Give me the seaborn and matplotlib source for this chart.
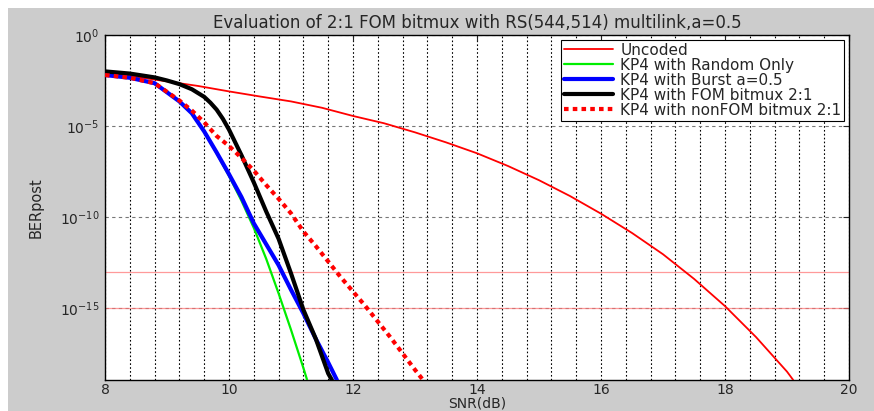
import numpy as np
import pandas as pd
import seaborn as sns
import matplotlib.pyplot as plt
from matplotlib.patches import Rectangle
from matplotlib.ticker import FixedLocator, MultipleLocator, NullLocator, LogFormatterMathtext

# SNR (dB) and log10(BER)
snr_uncoded = [8, 8.5, 9, 9.5, 10, 10.5, 11, 11.5, 12, 12.5, 13, 13.5, 14, 14.5,
               15, 15.5, 16, 16.5, 17, 17.5, 18, 18.5, 19, 19.1]
log_uncoded = [-2.1, -2.3, -2.55, -2.8, -3.1, -3.38, -3.65, -4.0, -4.45, -4.85, -5.35,
               -5.9, -6.5, -7.2, -7.98, -8.85, -9.82, -10.88, -12.05, -13.4, -14.9,
               -16.6, -18.5, -18.96]

snr_random = [8.0, 8.4, 8.8, 9.2, 9.4, 9.6, 9.8, 10.0, 10.2, 10.4, 10.6, 10.8, 11.0, 11.2, 11.26]
log_random = [-2.2, -2.35, -2.65, -3.65, -4.3, -5.3, -6.5, -7.75, -9.1, -10.6, -12.3,
              -14.2, -16.2, -18.3, -18.96]

snr_burst = [8.0, 8.4, 8.8, 9.2, 9.4, 9.6, 9.8, 10.0, 10.2, 10.4, 10.6, 10.8, 11.0,
             11.2, 11.4, 11.6, 11.74]
log_burst = [-2.2, -2.35, -2.65, -3.65, -4.3, -5.3, -6.45, -7.65, -8.9, -10.35, -11.5,
             -12.65, -14.0, -15.3, -16.7, -18.0, -18.96]

snr_fom = [8.0, 8.4, 8.8, 9.0, 9.2, 9.4, 9.6, 9.7, 9.8, 9.9, 10.0, 10.2, 10.4, 10.6, 10.8,
           11.0, 11.2, 11.4, 11.6, 11.66]
log_fom = [-2.0, -2.12, -2.33, -2.5, -2.7, -2.98, -3.4, -3.72, -4.1, -4.6, -5.2, -6.6,
           -8.1, -9.7, -11.2, -13.1, -15.1, -16.7, -18.6, -18.96]

snr_nonfom = [8.0, 8.4, 8.8, 9.2, 9.4, 9.6, 9.8, 10.0, 10.2, 10.4, 10.6, 10.8, 11.0,
              11.2, 11.4, 11.6, 11.8, 12.0, 12.2, 12.4, 12.6, 12.8, 13.0, 13.13]
log_nonfom = [-2.2, -2.35, -2.65, -3.6, -4.15, -4.8, -5.55, -6.1, -6.75, -7.45, -8.25,
              -9.0, -9.8, -10.8, -11.6, -12.45, -13.3, -14.1, -14.9, -15.75, -16.6,
              -17.5, -18.4, -18.96]

ref_levels = [1e-13, 1e-15]

sns.set_style('white')
plt.rcParams['font.family'] = ['DejaVu Sans']
plt.rcParams['mathtext.default'] = 'regular'

fig = plt.figure(figsize=(8.74, 4.11), dpi=100)
fig.patches.append(Rectangle((8 / 874, 0), 866 / 874, 403 / 411, transform=fig.transFigure,
                             facecolor='#cccccc', edgecolor='none', zorder=-5))
ax = fig.add_axes([105 / 874, 31 / 411, 744 / 874, 345 / 411])
ax.set_facecolor('white')

def df(x, y):
    return pd.DataFrame({'snr': x, 'ber': 10.0 ** np.array(y)})

for lvl in ref_levels:
    ax.axhline(lvl, color='#ff7070', lw=0.9, alpha=0.7, zorder=1)

sns.lineplot(data=df(snr_uncoded, log_uncoded), x='snr', y='ber', ax=ax, color='red',
             lw=1.3, label='Uncoded', zorder=3)
sns.lineplot(data=df(snr_random, log_random), x='snr', y='ber', ax=ax, color='#00ee00',
             lw=1.6, label='KP4 with Random Only', zorder=3)
sns.lineplot(data=df(snr_burst, log_burst), x='snr', y='ber', ax=ax, color='blue',
             lw=3.0, label='KP4 with Burst a=0.5', zorder=4)
sns.lineplot(data=df(snr_fom, log_fom), x='snr', y='ber', ax=ax, color='black',
             lw=3.0, label='KP4 with FOM bitmux 2:1', zorder=5)
sns.lineplot(data=df(snr_nonfom, log_nonfom), x='snr', y='ber', ax=ax, color='red',
             lw=3.0, ls=(0, (1.1, 1.0)), label='KP4 with nonFOM bitmux 2:1', zorder=6)

ax.set_yscale('log')
ax.set_xlim(8, 20)
ax.set_ylim(10 ** -18.96, 1)
ax.xaxis.set_major_locator(MultipleLocator(2))
ax.xaxis.set_minor_locator(MultipleLocator(0.4))
ax.yaxis.set_major_locator(FixedLocator([1e-15, 1e-10, 1e-5, 1e0]))
ax.yaxis.set_minor_locator(NullLocator())
ax.yaxis.set_major_formatter(LogFormatterMathtext())

ax.grid(False)
ax.grid(True, which='both', axis='x', color='black', ls=(0, (1.5, 2.0)), lw=0.8)
ax.grid(True, which='major', axis='y', color='#777777', ls=(0, (3, 3)), lw=0.8)

ax.tick_params(axis='both', which='major', direction='in', length=4, labelsize=10, pad=2,
               top=True, right=True)
ax.tick_params(axis='y', which='major', pad=4)
ax.tick_params(axis='x', which='minor', length=0)
for sp in ax.spines.values():
    sp.set_color('black')
    sp.set_linewidth(1.0)

ax.set_title('Evaluation of 2:1 FOM bitmux with RS(544,514) multilink,a=0.5',
             fontsize=12, pad=5)
ax.set_xlabel('SNR(dB)', fontsize=10)
ax.xaxis.set_label_coords(0.5, -0.047)
ax.set_ylabel('BERpost', fontsize=10.5)
ax.yaxis.set_label_coords(-0.083, 0.5)

leg = ax.legend(loc='upper right', fontsize=11, frameon=True, fancybox=False,
                edgecolor='black', framealpha=1, borderaxespad=0.3, labelspacing=0.0,
                handlelength=3.2, handletextpad=0.5, borderpad=0.2)
leg.get_frame().set_linewidth(0.8)

fig.savefig('out.png', dpi=100, facecolor='white')
